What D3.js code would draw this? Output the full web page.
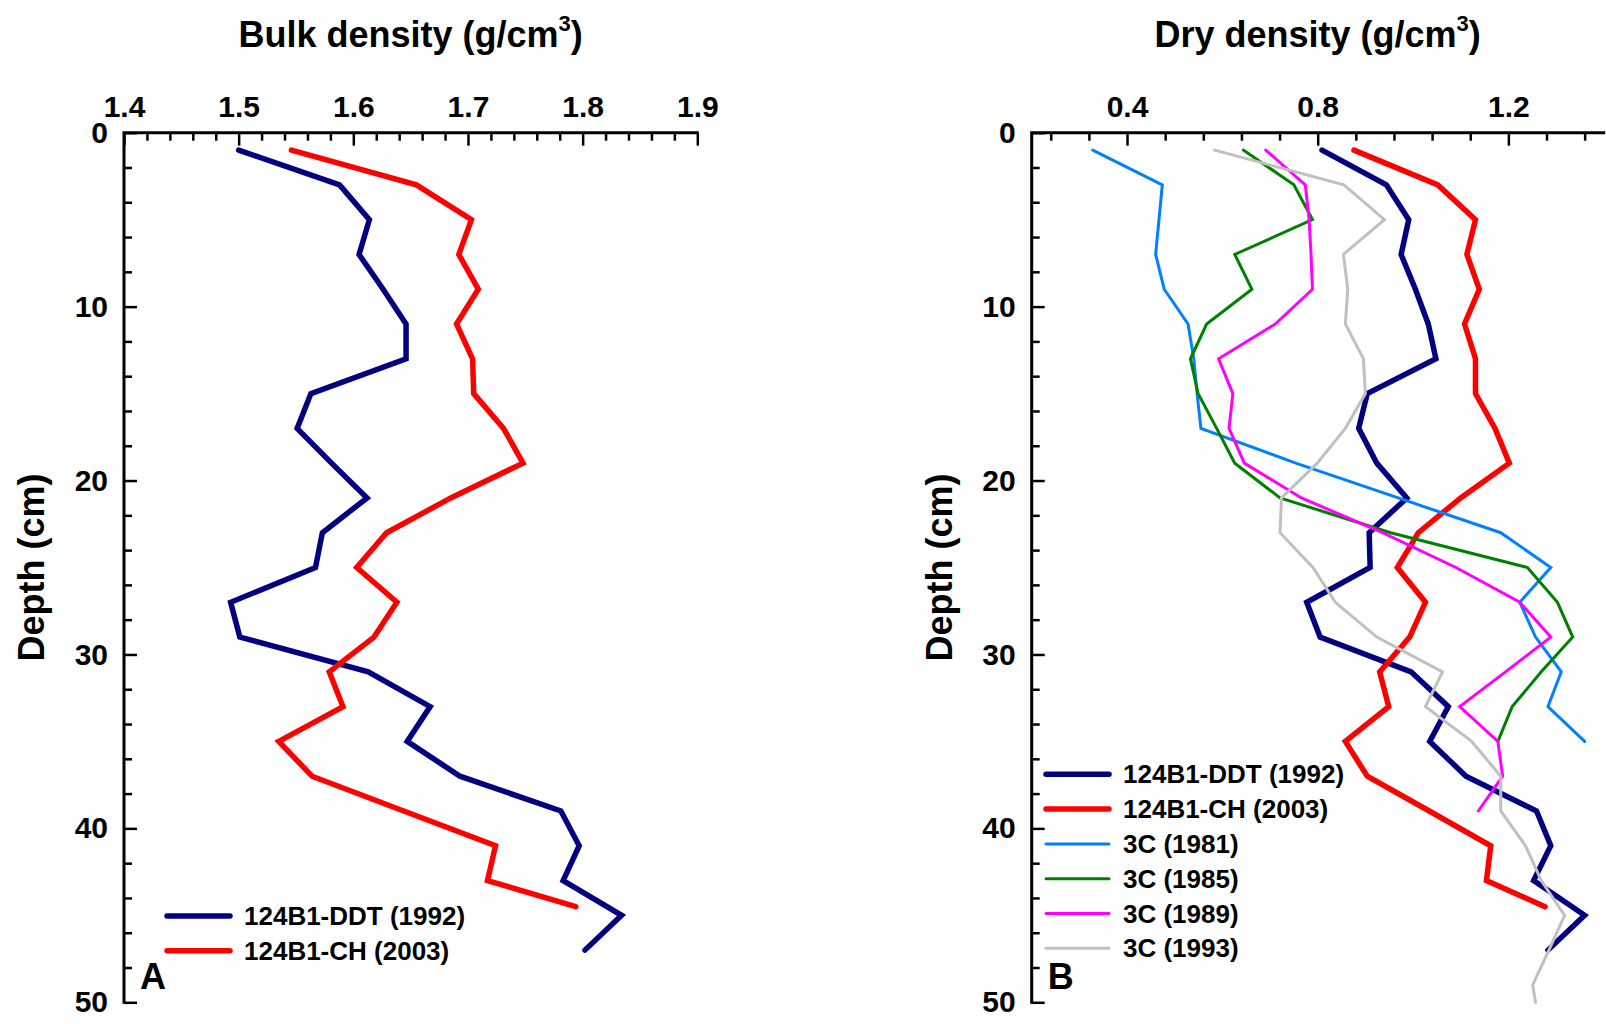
<!DOCTYPE html>
<html>
<head>
<meta charset="utf-8">
<script src="https://cdn.jsdelivr.net/npm/d3@7"></script>
<style>
  html, body { margin: 0; padding: 0; background: #fff; }
  svg { display: block; }
  text { font-family: 'Liberation Sans', Arial, Helvetica, sans-serif; font-weight: bold; fill: #000; }
</style>
</head>
<body>
<svg id="chart" width="1606" height="1024"></svg>
<script>
// ---- Core 124B1 profiles: depth (cm) and bulk density (g/cm3) ----
const depthDDT = [1, 3, 5, 7, 9, 11, 13, 15, 17, 19, 21, 23, 25, 27, 29, 31, 33, 35, 37, 39, 41, 43, 45, 47];
const bulkDDT = [1.500, 1.588, 1.614, 1.605, 1.626, 1.646, 1.646, 1.563, 1.551, 1.581, 1.612, 1.573,
                 1.567, 1.493, 1.501, 1.613, 1.667, 1.647, 1.693, 1.781, 1.797, 1.783, 1.834, 1.802];

const depthCH = [1, 3, 5, 7, 9, 11, 13, 15, 17, 19, 21, 23, 25, 27, 29, 31, 33, 35, 37, 39, 41, 43, 44.5];
const bulkCH = [1.546, 1.655, 1.703, 1.692, 1.709, 1.690, 1.704, 1.705, 1.731, 1.748, 1.685, 1.629,
                1.603, 1.638, 1.618, 1.579, 1.591, 1.535, 1.564, 1.644, 1.724, 1.717, 1.794];

// ---- Dry density (g/cm3) ----
const dryDDT = [0.809, 0.944, 0.991, 0.975, 1.005, 1.032, 1.048, 0.904, 0.886, 0.924, 0.987, 0.908,
                0.910, 0.777, 0.805, 0.996, 1.074, 1.035, 1.111, 1.259, 1.289, 1.253, 1.360, 1.283];
const dryCH = [0.876, 1.052, 1.131, 1.113, 1.139, 1.108, 1.131, 1.131, 1.172, 1.202, 1.100, 1.011,
               0.967, 1.026, 0.993, 0.930, 0.949, 0.858, 0.904, 1.034, 1.163, 1.154, 1.277];

const depth3C_1981 = [1, 3, 5, 7, 9, 11, 13, 15, 17, 19, 21, 23, 25, 27, 29, 31, 33, 35];
const dry3C_1981 = [0.328, 0.474, 0.467, 0.460, 0.478, 0.528, 0.540, 0.547, 0.555, 0.754, 0.969, 1.184,
                    1.289, 1.224, 1.257, 1.311, 1.283, 1.360];

const depth3C_1985 = [1, 3, 5, 7, 9, 11, 13, 15, 17, 19, 21, 23, 25, 27, 29, 31, 33, 35];
const dry3C_1985 = [0.644, 0.750, 0.789, 0.626, 0.662, 0.567, 0.533, 0.549, 0.588, 0.626, 0.721, 0.953,
                    1.240, 1.303, 1.335, 1.269, 1.208, 1.178];

const depth3C_1989 = [1, 3, 5, 7, 9, 11, 13, 15, 17, 19, 21, 23, 25, 27, 29, 31, 33, 35, 37, 39];
const dry3C_1989 = [0.691, 0.774, 0.782, 0.786, 0.789, 0.711, 0.592, 0.622, 0.614, 0.646, 0.766, 0.936,
                    1.090, 1.224, 1.289, 1.194, 1.098, 1.178, 1.188, 1.137];

const depth3C_1993 = [1, 3, 5, 7, 9, 11, 13, 15, 17, 19, 21, 23, 25, 27, 29, 31, 33, 35, 37, 39, 41, 43, 45, 47, 49, 50];
const dry3C_1993 = [0.584, 0.855, 0.940, 0.854, 0.863, 0.858, 0.896, 0.900, 0.858, 0.799, 0.724, 0.721,
                    0.790, 0.837, 0.924, 1.062, 1.026, 1.123, 1.184, 1.184, 1.236, 1.269, 1.318, 1.285,
                    1.251, 1.257];

// ---- Axis ticks ----
const depthMajor = [0, 10, 20, 30, 40, 50];
const depthMinor = [2, 4, 6, 8, 12, 14, 16, 18, 22, 24, 26, 28, 32, 34, 36, 38, 42, 44, 46, 48];
const bulkMajor = [1.4, 1.5, 1.6, 1.7, 1.8, 1.9];
const bulkMinor = d3.range(1.42, 1.89, 0.02).filter(v => Math.abs(v * 10 - Math.round(v * 10)) > 1e-6);
const dryMajor = [0.4, 0.8, 1.2];
const dryMinor = [0.24, 0.32, 0.48, 0.56, 0.64, 0.72, 0.88, 0.96, 1.04, 1.12, 1.28, 1.36];

// ---- Series styling ----
const seriesA = [
  { name: "124B1-DDT (1992)", depth: depthDDT, values: bulkDDT, color: "#000080", width: 5.5 },
  { name: "124B1-CH (2003)", depth: depthCH, values: bulkCH, color: "#ff0000", width: 5.5 }
];
const seriesB = [
  { name: "124B1-DDT (1992)", depth: depthDDT, values: dryDDT, color: "#000080", width: 5.5 },
  { name: "124B1-CH (2003)", depth: depthCH, values: dryCH, color: "#ff0000", width: 5.5 },
  { name: "3C (1981)", depth: depth3C_1981, values: dry3C_1981, color: "#0080ff", width: 3 },
  { name: "3C (1985)", depth: depth3C_1985, values: dry3C_1985, color: "#008000", width: 3 },
  { name: "3C (1989)", depth: depth3C_1989, values: dry3C_1989, color: "#ff00ff", width: 3 },
  { name: "3C (1993)", depth: depth3C_1993, values: dry3C_1993, color: "#c0c0c0", width: 3 }
];

const svg = d3.select("#chart");
svg.append("rect").attr("width", 1606).attr("height", 1024).attr("fill", "#fff");

const yTop = 132.7, yBottom = 1002.3;
const y = d3.scaleLinear().domain([0, 50]).range([yTop, yBottom]);

function drawPanel(opts) {
  const { x, majorX, minorX, fmtX, title, series, letter, legendX, legendY } = opts;
  const g = svg.append("g");
  const [x0, x1] = x.range();

  // data lines
  const line = d3.line().x(d => x(d.v)).y(d => y(d.d));
  series.forEach(s => {
    const pts = s.depth.map((d, i) => ({ d, v: s.values[i] }));
    g.append("path")
      .datum(pts)
      .attr("d", line)
      .attr("fill", "none")
      .attr("stroke", s.color)
      .attr("stroke-width", s.width)
      .attr("stroke-linejoin", "miter")
      .attr("stroke-linecap", "round");
  });

  // top axis: minor and major ticks pointing inward
  const topMinor = g.append("g").attr("transform", `translate(0,${yTop})`)
    .call(d3.axisTop(x).tickValues(minorX).tickSizeInner(-8).tickSizeOuter(0).tickFormat(""));
  const topMajor = g.append("g").attr("transform", `translate(0,${yTop})`)
    .call(d3.axisTop(x).tickValues(majorX).tickSizeInner(-13).tickSizeOuter(0).tickPadding(16).tickFormat(fmtX));
  // left axis
  const leftMinor = g.append("g").attr("transform", `translate(${x0},0)`)
    .call(d3.axisLeft(y).tickValues(depthMinor).tickSizeInner(-8).tickSizeOuter(0).tickFormat(""));
  const leftMajor = g.append("g").attr("transform", `translate(${x0},0)`)
    .call(d3.axisLeft(y).tickValues(depthMajor).tickSizeInner(-13).tickSizeOuter(0).tickPadding(16).tickFormat(d3.format("d")));

  [topMinor, topMajor, leftMinor, leftMajor].forEach(a => {
    a.select(".domain").remove();
    a.selectAll(".tick line").attr("stroke", "#000").attr("stroke-width", 2.5);
    a.selectAll("text").attr("font-size", 30).attr("fill", "#000")
      .attr("font-family", "'Liberation Sans', Arial, sans-serif").attr("font-weight", "bold");
  });

  // axis lines
  g.append("path")
    .attr("d", `M${x0},${yBottom}V${yTop}H${x1}`)
    .attr("fill", "none").attr("stroke", "#000").attr("stroke-width", 3)
    .attr("stroke-linecap", "square");

  // axis titles
  const t = g.append("text")
    .attr("x", (x0 + x1) / 2).attr("y", 47)
    .attr("text-anchor", "middle").attr("font-size", 36);
  t.append("tspan").text(title + " (g/cm");
  t.append("tspan").attr("font-size", 22).attr("dy", -16).text("3");
  t.append("tspan").attr("dy", 16).text(")");

  g.append("text")
    .attr("transform", `translate(${x0 - 80},${(yTop + yBottom) / 2}) rotate(-90)`)
    .attr("text-anchor", "middle").attr("font-size", 36)
    .text("Depth (cm)");

  // panel letter
  g.append("text").attr("x", x0 + 16).attr("y", 989).attr("font-size", 36).text(letter);

  // legend
  const lg = g.append("g").attr("transform", `translate(${legendX},${legendY})`);
  series.forEach((s, i) => {
    const row = lg.append("g").attr("transform", `translate(0,${i * 34.8})`);
    row.append("line").attr("x1", 0).attr("x2", 63).attr("y1", 0).attr("y2", 0)
      .attr("stroke", s.color).attr("stroke-width", s.width).attr("stroke-linecap", "round");
    row.append("text").attr("x", 77).attr("y", 0).attr("dy", "0.35em")
      .attr("font-size", 26).text(s.name);
  });
}

drawPanel({
  x: d3.scaleLinear().domain([1.4, 1.9]).range([124, 697.3]),
  majorX: bulkMajor, minorX: bulkMinor, fmtX: d3.format(".1f"),
  title: "Bulk density", series: seriesA, letter: "A",
  legendX: 167, legendY: 916
});

drawPanel({
  x: d3.scaleLinear().domain([0.2, 1.4]).range([1031.7, 1603.7]),
  majorX: dryMajor, minorX: dryMinor, fmtX: d3.format(".1f"),
  title: "Dry density", series: seriesB, letter: "B",
  legendX: 1046, legendY: 774.3
});
</script>
</body>
</html>
